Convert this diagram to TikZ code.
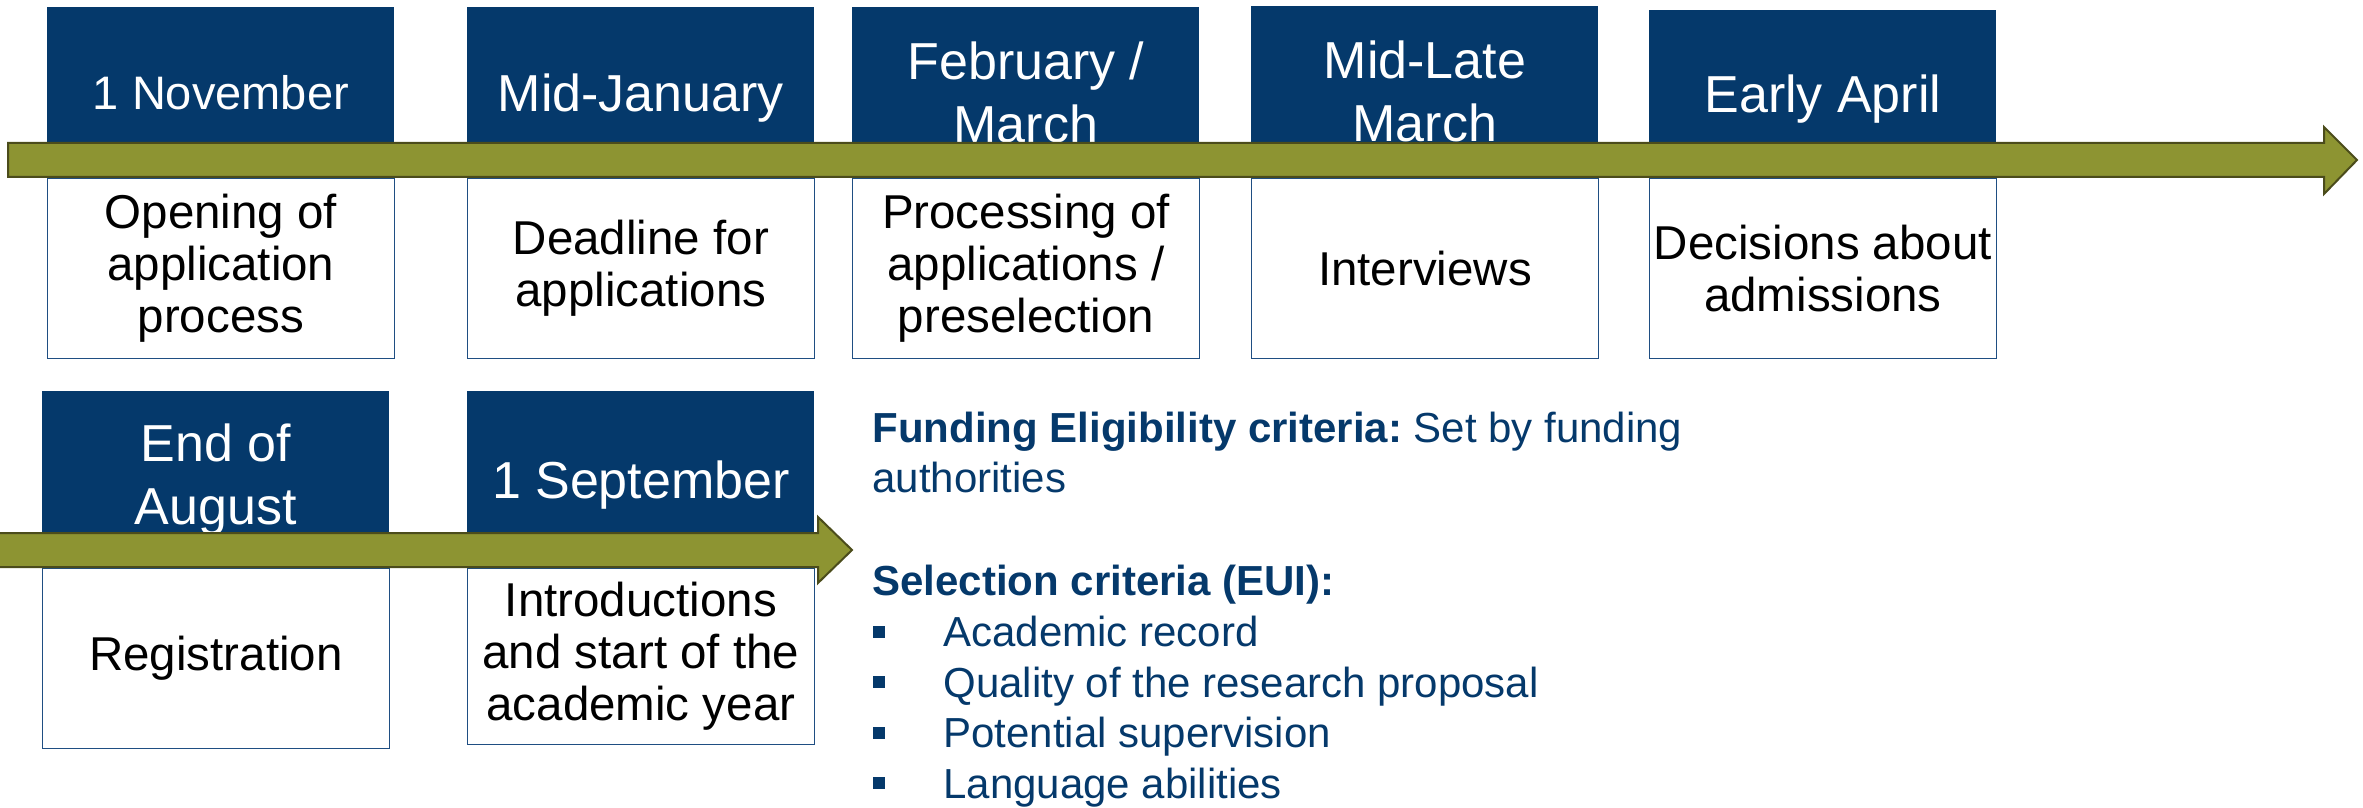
\documentclass[tikz,border=0pt]{standalone}
\usepackage{fontspec}
\setmainfont{Liberation Sans}
\usetikzlibrary{positioning}
\definecolor{euiblue}{HTML}{05396B}
\definecolor{olivebar}{HTML}{8D9432}
\definecolor{olivedark}{HTML}{4B4C1B}
\definecolor{boxline}{HTML}{1F4E82}
\frenchspacing
\begin{document}
\begin{tikzpicture}[x=0.5pt, y=-0.5pt, align=center, inner sep=0pt]
\tikzstyle{date}=[fill=euiblue, text=white, minimum width=173.5pt, minimum height=85pt, anchor=north west, font=\fontsize{26}{31.5}\selectfont]
\tikzstyle{event}=[draw=boxline, line width=0.75pt, fill=white, minimum width=173.5pt, minimum height=90pt, font=\fontsize{23.75}{26}\selectfont]
\tikzstyle{timeline}=[fill=olivebar, draw=olivedark, line width=1pt]
\tikzstyle{crit}=[text=euiblue, anchor=base west, align=left, font=\fontsize{21}{25}\selectfont]
\useasboundingbox (0,0) rectangle (2363,808);
% first year
\node[date, font=\fontsize{23.5}{28}\selectfont] (nov) at (47,7) {1 November};
\node[date, text depth=0pt] (jan) at (467,7) {Mid-January};
\node[date] (feb) at (852,7) {February /\\March};
\node[date, minimum height=85.5pt] (mar) at (1251,6) {Mid-Late\\March};
\node[date, minimum height=83.5pt, text depth=0pt] (apr) at (1649,10) {Early April};
\node[event, below=0pt of nov] (open) {Opening of\\application\\process};
\node[event, below=0pt of jan] (deadline) {Deadline for\\applications};
\node[event, below=0pt of feb] (process) {Processing of\\applications /\\preselection};
\node[event, below=0pt of mar] (interview) {Interviews};
\node[event, below=0pt of apr] (decision) {Decisions about\\admissions};
\draw[timeline] (8,143) -- (2324,143) -- (2324,127) -- (2357,160) -- (2324,194) -- (2324,177) -- (8,177) -- cycle;
% second year
\node[date, minimum height=88pt] (aug) at (42,391) {End of\\August};
\node[date, minimum height=88pt, text depth=0pt] (sep) at (467,391) {1 September};
\node[event, below=0pt of aug] (register) {Registration};
\node[event, below=0pt of sep, minimum height=88pt] (intro) {Introductions\\and start of the\\academic year};
\draw[timeline] (-10,533) -- (818,533) -- (818,517) -- (852,550) -- (818,583) -- (818,567) -- (-10,567) -- cycle;
% criteria
\node[crit] (funding) at (872,442) {\textbf{Funding Eligibility criteria:} Set by funding};
\node[crit] (authority) at (872,492) {authorities};
\node[crit] (selection) at (872,595) {\textbf{Selection criteria (EUI):}};
\foreach \txt [count=\i] in {Academic record, Quality of the research proposal, Potential supervision, Language abilities} {
  \node[crit] (bullet\i) at (873,596.5+50.4*\i) {\rule[4.5pt]{6pt}{6pt}};
  \node[crit] (item\i) at (943,596.5+50.4*\i) {\txt};
}
\end{tikzpicture}
\end{document}
